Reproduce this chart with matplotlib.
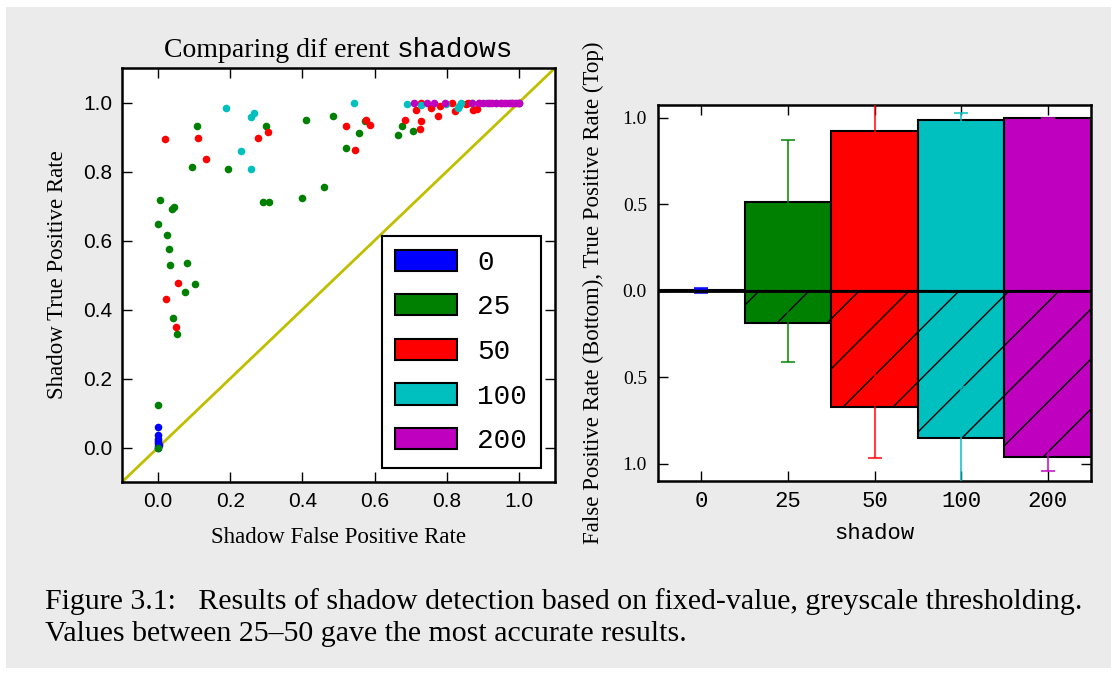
import numpy as np
import matplotlib
matplotlib.use('Agg')
import matplotlib.pyplot as plt
from matplotlib.patches import Patch, Rectangle
from matplotlib.backend_bases import GraphicsContextBase

# sparser hatching than matplotlib's default density
_hatch_path = GraphicsContextBase.get_hatch_path
GraphicsContextBase.get_hatch_path = lambda self, density=4.0: _hatch_path(self, density)
plt.rcParams['hatch.linewidth'] = 1.0

SERIF = 'Liberation Serif'
MONO = 'Liberation Mono'
SANS = 'Liberation Sans'

shadows = ['0', '25', '50', '100', '200']
colours = ['#0000ff', '#008000', '#ff0000', '#00bfbf', '#bf00bf']

# per-image false/true positive rates for each shadow threshold
fpr_0 = [0.0, 0.0, 0.0, 0.0, 0.0, 0.0, 0.001, 0.002]
tpr_0 = [0.058, 0.037, 0.025, 0.013, 0.003, 0.0, 0.02, 0.008]

fpr_25 = [0.0, 0.001, 0.005, 0.0, 0.024, 0.031, 0.034, 0.038, 0.044, 0.08,
          0.074, 0.102, 0.04, 0.053, 0.095, 0.107, 0.195, 0.29, 0.307, 0.30,
          0.40, 0.41, 0.461, 0.485, 0.522, 0.556, 0.573, 0.666, 0.676, 0.707]
tpr_25 = [0.122, 0.648, 0.716, 0.0, 0.617, 0.574, 0.53, 0.692, 0.697, 0.534,
          0.45, 0.474, 0.375, 0.328, 0.814, 0.932, 0.807, 0.711, 0.711, 0.933,
          0.724, 0.95, 0.756, 0.961, 0.868, 0.911, 0.947, 0.906, 0.932, 0.918]

fpr_50 = [0.018, 0.054, 0.023, 0.049, 0.11, 0.133, 0.278, 0.306, 0.522, 0.547,
          0.575, 0.586, 0.684, 0.716, 0.729, 0.726, 0.73, 0.756, 0.777, 0.781,
          0.815, 0.824, 0.854, 0.872, 0.885, 0.86, 0.89, 0.92, 0.95, 0.98, 1.0]
tpr_50 = [0.894, 0.476, 0.43, 0.348, 0.897, 0.835, 0.896, 0.915, 0.932, 0.861,
          0.949, 0.935, 0.949, 0.977, 0.945, 0.924, 1.0, 0.984, 0.961, 0.991,
          0.998, 0.974, 0.995, 0.977, 0.981, 1.0, 1.0, 1.0, 1.0, 1.0, 1.0]

fpr_100 = [0.187, 0.23, 0.258, 0.265, 0.258, 0.542, 0.691, 0.728, 0.799, 0.83,
           0.835, 0.84, 0.87, 0.91, 0.937, 0.974, 1.0]
tpr_100 = [0.984, 0.859, 0.959, 0.969, 0.806, 1.0, 0.996, 0.993, 0.995, 0.984,
           0.99, 1.0, 1.0, 1.0, 0.998, 1.0, 1.0]

fpr_200 = [0.71, 0.746, 0.766, 0.794, 0.87, 0.89, 0.90, 0.914, 0.925, 0.937,
           0.95, 0.958, 0.965, 0.973, 0.98, 0.988, 0.995, 1.0]
tpr_200 = [1.0] * len(fpr_200)

fpr_sets = [fpr_0, fpr_25, fpr_50, fpr_100, fpr_200]
tpr_sets = [tpr_0, tpr_25, tpr_50, tpr_100, tpr_200]

# mean rates and their spread per threshold
tpr_mean = [0.005, 0.515, 0.925, 0.986, 0.998]
tpr_err = [0.012, 0.36, 0.2, 0.04, 0.003]
fpr_mean = [0.002, 0.186, 0.673, 0.854, 0.961]
fpr_err = [0.012, 0.228, 0.295, 0.3, 0.083]

W, H = 1111, 675
fig = plt.figure(figsize=(W / 100, H / 100), dpi=100, facecolor='white')
fig.add_artist(Rectangle((6 / W, 7 / H), 1 - 6 / W, (668 - 7) / H,
                         transform=fig.transFigure, facecolor='#ebebeb',
                         edgecolor='none', zorder=-10))

# --- scatter of TPR vs FPR ---
ax1 = fig.add_axes([122 / W, (H - 482) / H, 433 / W, 414 / H])
for fpr, tpr, c in zip(fpr_sets, tpr_sets, colours):
    ax1.scatter(fpr, tpr, s=30, color=c, linewidths=0, zorder=3)
ax1.axline((0, 0), (1, 1), color='#bfbf00', lw=2, zorder=2)
ax1.set_xlim(-0.1, 1.1)
ax1.set_ylim(-0.1, 1.1)
ticks = np.arange(0, 1.01, 0.2)
ax1.set_xticks(ticks)
ax1.set_yticks(ticks)
ax1.set_xticklabels(['%.1f' % t for t in ticks], family=SANS)
ax1.set_yticklabels(['%.1f' % t for t in ticks], family=SANS)
ax1.tick_params(direction='in', length=7, width=1, top=True, right=True,
                labelsize=15, pad=7)
for s in ax1.spines.values():
    s.set_linewidth(1.8)
ax1.set_xlabel('Shadow False Positive Rate', family=SERIF, fontsize=16.5, labelpad=12)
ax1.set_ylabel('Shadow True Positive Rate', family=SERIF, fontsize=16.5, labelpad=11)

handles = [Patch(facecolor=c, edgecolor='k', lw=1.5) for c in colours]
leg = ax1.legend(handles, shadows, loc='lower right', prop={'family': MONO, 'size': 20},
                 fancybox=False, framealpha=1, edgecolor='k', handlelength=2.2,
                 handleheight=0.8, labelspacing=0.66, handletextpad=0.75,
                 borderpad=0.5, borderaxespad=0.5)
leg.get_frame().set_linewidth(1.5)

# title mixes a serif phrase with the monospace variable name
title_y = (H - 57) / H
t1 = fig.text(0, title_y, 'Comparing dif erent ', family=SERIF,
              fontsize=20, va='baseline', ha='left')
t2 = fig.text(0, title_y, 'shadows', family=MONO, fontsize=20,
              va='baseline', ha='left')
fig.canvas.draw()
w1 = t1.get_window_extent().width
w2 = t2.get_window_extent().width
x0 = 339 - (w1 + w2) / 2
t1.set_x(x0 / W)
t2.set_x((x0 + w1) / W)

# --- mean TPR (top) and FPR (bottom) bars ---
ax2 = fig.add_axes([658 / W, (H - 481) / H, 433 / W, 376 / H])
x = np.arange(len(shadows))
ax2.bar(x, tpr_mean, width=1, color=colours, edgecolor='k', lw=1.5, zorder=2)
ax2.bar(x, -np.array(fpr_mean), width=1, color=colours, edgecolor='k', lw=1.5,
        hatch='/', zorder=2)
for i, c in enumerate(colours):
    ax2.errorbar(x[i], tpr_mean[i], yerr=tpr_err[i], fmt='none', ecolor=c,
                 alpha=0.75, elinewidth=1.5, capsize=5, capthick=1.5, zorder=3)
    ax2.errorbar(x[i], -fpr_mean[i], yerr=fpr_err[i], fmt='none', ecolor=c,
                 alpha=0.75, elinewidth=1.5, capsize=5, capthick=1.5, zorder=3)
ax2.axhline(0, color='k', lw=2, zorder=4)
ax2.set_xlim(-0.5, 4.5)
ax2.set_ylim(-1.1, 1.075)
ax2.set_xticks(x)
ax2.set_xticklabels(shadows, family=MONO, fontsize=16)
yt = [-1.0, -0.5, 0.0, 0.5, 1.0]
ax2.set_yticks(yt)
ax2.set_yticklabels(['%.1f' % abs(v) for v in yt], family=SERIF, fontsize=14)
ax2.tick_params(direction='in', length=7, width=1, top=True, right=True, pad=8)
ax2.tick_params(axis='x', pad=7)
for s in ax2.spines.values():
    s.set_linewidth(1.8)
ax2.set_xlabel('shadow', family=MONO, fontsize=16, labelpad=8)
ax2.set_ylabel('False Positive Rate (Bottom), True Positive Rate (Top)',
               family=SERIF, fontsize=16.5, labelpad=13)

# caption
fig.text(45 / W, (H - 609) / H,
         'Figure 3.1:   Results of shadow detection based on fixed-value, greyscale thresholding.',
         family=SERIF, fontsize=21.5, va='baseline')
fig.text(45 / W, (H - 641) / H,
         'Values between 25\u201350 gave the most accurate results.',
         family=SERIF, fontsize=21.5, va='baseline')

fig.savefig('out.png', dpi=100, facecolor=fig.get_facecolor())
